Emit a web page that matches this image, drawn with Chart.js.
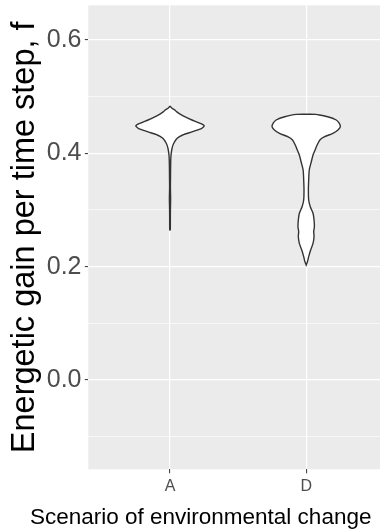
<!DOCTYPE html>
<html>
<head>
<meta charset="utf-8">
<script src="https://cdn.jsdelivr.net/npm/chart.js@4.4.1/dist/chart.umd.min.js"></script>
<style>
  html, body { margin: 0; padding: 0; background: #ffffff; }
  #wrap { position: relative; width: 380px; height: 529px; }
</style>
</head>
<body>
<div id="wrap"><canvas id="chart"></canvas></div>
<script>
// Scenarios shown on the x axis
const CATEGORIES = ['A', 'D'];

// y-axis ticks (labelled majors, unlabelled minors)
const Y_MAJOR_TICKS = [0.0, 0.2, 0.4, 0.6];
const Y_MINOR_TICKS = [-0.1, 0.1, 0.3, 0.5];

// Scenario A: kernel density of f, relative to the widest point
const A_LEVELS  = [0.4835, 0.4800, 0.4764, 0.4735, 0.4706, 0.4646, 0.4588, 0.4530, 0.4487, 0.4441, 0.4382, 0.4323, 0.4265, 0.4177, 0.4089, 0.3970, 0.3850, 0.3600, 0.3400, 0.3200, 0.3000, 0.2800, 0.2647];
const A_DENSITY = [0.000, 0.050, 0.140, 0.190, 0.260, 0.430, 0.640, 0.880, 1.000, 0.930, 0.660, 0.370, 0.210, 0.110, 0.060, 0.030, 0.020, 0.015, 0.012, 0.018, 0.012, 0.010, 0.008];

// Scenario D: kernel density of f, relative to the widest point
const D_LEVELS  = [0.4688, 0.4646, 0.4588, 0.4530, 0.4470, 0.4412, 0.4353, 0.4293, 0.4235, 0.4147, 0.4058, 0.3970, 0.3852, 0.3706, 0.3529, 0.3353, 0.3176, 0.3058, 0.2942, 0.2823, 0.2705, 0.2617, 0.2529, 0.2412, 0.2294, 0.2176, 0.2088, 0.2029];
const D_DENSITY = [0.290, 0.630, 0.880, 0.970, 1.000, 0.930, 0.780, 0.540, 0.400, 0.320, 0.260, 0.200, 0.150, 0.090, 0.073, 0.064, 0.073, 0.120, 0.200, 0.230, 0.240, 0.220, 0.230, 0.200, 0.130, 0.073, 0.038, 0.000];

const Y_TITLE = 'Energetic gain per time step, f';
const X_TITLE = 'Scenario of environmental change';

// Half of the violin width, in category units
const HALF_WIDTH = 0.251;

// Closed outline of one violin: right side downwards, then left side back up
function violinOutline(center, levels, density) {
  const right = levels.map((y, i) => ({ x: center + HALF_WIDTH * density[i], y }));
  const left = levels.map((y, i) => ({ x: center - HALF_WIDTH * density[i], y })).reverse();
  return right.concat(left, [right[0]]);
}

const isMinor = v => Math.abs(Math.round(v * 10)) % 2 === 1;

const panelBackground = {
  id: 'panelBackground',
  beforeDraw(chart) {
    const { ctx, chartArea: a } = chart;
    ctx.save();
    ctx.fillStyle = '#EBEBEB';
    ctx.fillRect(a.left, a.top, a.right - a.left, a.bottom - a.top);
    ctx.restore();
  }
};

const xTitle = {
  id: 'xTitle',
  afterDraw(chart) {
    const { ctx } = chart;
    ctx.save();
    ctx.font = '22.5px "Liberation Sans", Arial, sans-serif';
    ctx.fillStyle = '#000000';
    ctx.textAlign = 'center';
    ctx.textBaseline = 'alphabetic';
    ctx.fillText(X_TITLE, 200.7, 524);
    ctx.restore();
  }
};

Chart.defaults.font.family = '"Liberation Sans", Arial, sans-serif';

const violinStyle = {
  showLine: true,
  fill: 'shape',
  backgroundColor: '#FFFFFF',
  borderColor: '#333333',
  borderWidth: 1.4,
  pointRadius: 0,
  pointHoverRadius: 0,
  tension: 0.25
};

new Chart(document.getElementById('chart'), {
  type: 'scatter',
  data: {
    datasets: [
      Object.assign({ label: CATEGORIES[0], data: violinOutline(0, A_LEVELS, A_DENSITY) }, violinStyle),
      Object.assign({ label: CATEGORIES[1], data: violinOutline(1, D_LEVELS, D_DENSITY) }, violinStyle)
    ]
  },
  options: {
    responsive: true,
    maintainAspectRatio: false,
    animation: false,
    layout: { padding: { top: 5.3, right: 0, bottom: 0, left: 0 } },
    plugins: {
      legend: { display: false },
      tooltip: { enabled: false }
    },
    scales: {
      x: {
        type: 'linear',
        min: -0.6,
        max: 1.542,
        afterBuildTicks(scale) {
          scale.ticks = CATEGORIES.map((c, i) => ({ value: i }));
        },
        afterFit(scale) {
          scale.height = 59.7;
          scale.paddingLeft = 0;
          scale.paddingRight = 0;
        },
        border: { display: false },
        grid: {
          color: '#FFFFFF',
          lineWidth: 1.2,
          drawTicks: true,
          tickLength: 4,
          tickColor: '#333333',
          tickWidth: 1
        },
        ticks: {
          padding: 4,
          color: '#4D4D4D',
          font: { size: 16 },
          maxRotation: 0,
          callback: v => CATEGORIES[v]
        }
      },
      y: {
        type: 'linear',
        min: -0.1576,
        max: 0.6612,
        afterBuildTicks(scale) {
          scale.ticks = Y_MINOR_TICKS.concat(Y_MAJOR_TICKS)
            .sort((a, b) => a - b)
            .map(v => ({ value: v }));
        },
        afterFit(scale) {
          scale.width = 88.3;
          scale.paddingTop = 0;
          scale.paddingBottom = 0;
        },
        border: { display: false },
        grid: {
          color: '#FFFFFF',
          lineWidth: c => (isMinor(c.tick.value) ? 0.6 : 1.2),
          drawTicks: true,
          tickLength: 3.5,
          tickColor: c => (isMinor(c.tick.value) ? 'rgba(0,0,0,0)' : '#333333'),
          tickWidth: 1
        },
        ticks: {
          padding: 3.3,
          color: '#4D4D4D',
          font: { size: 25 },
          callback: v => (isMinor(v) ? '' : v.toFixed(1))
        },
        title: {
          display: true,
          text: Y_TITLE,
          color: '#000000',
          font: { size: 32.5 },
          padding: { top: 5.5, bottom: 0 }
        }
      }
    }
  },
  plugins: [panelBackground, xTitle]
});
</script>
</body>
</html>
